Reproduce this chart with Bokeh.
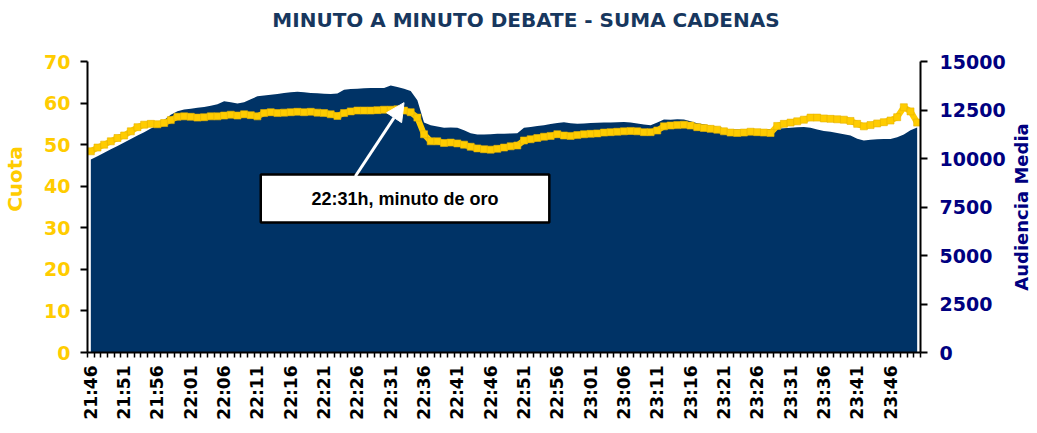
from math import pi
from bokeh.plotting import figure
from bokeh.layouts import row
from bokeh.models import Range1d, LinearAxis, FixedTicker, Arrow, NormalHead, Label
from bokeh.embed import file_html
from bokeh.resources import INLINE

# ---------------- data ----------------
# minute index 0 = 21:46 ... 124 = 23:50
minutes = list(range(125))
tick_positions = [0, 5, 10, 15, 20, 25, 30, 35, 40, 45, 50, 55, 60, 65, 70, 75, 80, 85, 90, 95, 100, 105, 110, 115, 120]
tick_labels = ["21:46", "21:51", "21:56", "22:01", "22:06", "22:11", "22:16", "22:21", "22:26",
               "22:31", "22:36", "22:41", "22:46", "22:51", "22:56", "23:01", "23:06", "23:11",
               "23:16", "23:21", "23:26", "23:31", "23:36", "23:41", "23:46"]

cuota = [48.4, 49.3, 50.0, 50.8, 51.6, 52.2, 53.2, 54.2, 54.8, 55.0,
         54.9, 55.2, 55.9, 56.7, 56.8, 56.7, 56.5, 56.6, 56.8, 56.8,
         57.0, 57.2, 57.0, 57.3, 57.1, 56.8, 57.6, 57.8, 57.6, 57.7,
         57.8, 57.9, 57.8, 57.9, 57.7, 57.6, 57.3, 56.9, 57.6, 58.0,
         58.2, 58.2, 58.2, 58.3, 58.4, 58.4, 58.5, 58.2, 57.8, 56.5,
         52.5, 50.8, 50.8, 50.4, 50.5, 50.3, 50.0, 49.5, 49.1, 48.9,
         48.8, 49.0, 49.3, 49.6, 49.8, 51.0, 51.3, 51.6, 51.9, 52.1,
         52.5, 52.2, 52.1, 52.3, 52.5, 52.6, 52.7, 52.9, 53.0, 53.1,
         53.2, 53.3, 53.2, 53.0, 53.0, 53.4, 54.4, 54.6, 54.7, 54.8,
         54.6, 54.2, 54.0, 53.8, 53.6, 53.2, 52.9, 52.8, 52.9, 53.1,
         53.0, 52.9, 52.8, 54.5, 55.0, 55.3, 55.6, 56.0, 56.5, 56.5,
         56.3, 56.2, 56.1, 56.0, 55.7, 55.0, 54.4, 54.7, 55.1, 55.4,
         55.8, 56.6, 59.0, 58.0, 55.3]

audiencia = [9950, 10120, 10300, 10480, 10650, 10820, 11000, 11180, 11350, 11550,
             11700, 11980, 12250, 12430, 12520, 12570, 12610, 12650, 12720, 12800,
             12950, 12900, 12830, 12900, 13050, 13210, 13250, 13290, 13330, 13380,
             13420, 13440, 13420, 13380, 13360, 13340, 13330, 13350, 13540, 13580,
             13600, 13620, 13630, 13640, 13640, 13760, 13680, 13600, 13480, 13000,
             11850, 11720, 11650, 11580, 11600, 11580, 11450, 11300, 11240, 11240,
             11250, 11270, 11280, 11290, 11300, 11580, 11620, 11670, 11720, 11780,
             11830, 11870, 11820, 11790, 11810, 11830, 11840, 11850, 11860, 11870,
             11880, 11850, 11800, 11750, 11720, 11850, 12010, 12000, 12020, 12010,
             11920, 11820, 11760, 11690, 11620, 11560, 11500, 11490, 11480, 11500,
             11490, 11490, 11510, 11530, 11560, 11580, 11610, 11630, 11580, 11500,
             11420, 11380, 11320, 11250, 11180, 11020, 10930, 10970, 10990, 11000,
             11010, 11100, 11240, 11450, 11600]

cuota_ticks = [0, 10, 20, 30, 40, 50, 60, 70]
aud_ticks = [0, 2500, 5000, 7500, 10000, 12500, 15000]
title_text = "MINUTO A MINUTO DEBATE - SUMA CADENAS"
right_title = "Audiencia Media"

# ---------------- styles ----------------
NAVY = "#003366"
YELLOW = "#FFCC00"
AXIS_BLUE = "#000080"
FONT = "DejaVu Sans"

# axes span 0..70 (0..15000) over 291px; the frame is extended upward to hold the title
FRAME_H = 347
CUOTA_TOP = 70 * FRAME_H / 291
AUD_TOP = 15000 * FRAME_H / 291

p = figure(frame_width=833, frame_height=FRAME_H,
           x_range=Range1d(-0.5, 124.5), y_range=Range1d(0, CUOTA_TOP),
           output_backend="svg", toolbar_location=None,
           min_border_left=77, min_border_right=90,
           min_border_top=5, min_border_bottom=65)
p.outline_line_color = None
p.grid.visible = False
p.background_fill_color = "white"
p.border_fill_color = "white"

p.extra_y_ranges = {"aud": Range1d(0, AUD_TOP)}

# title (as a label in the upper part of the frame)
p.add_layout(Label(x=65.3, y=80.1, text=title_text, text_align="center",
                   text_baseline="middle", text_color="#17375E", text_font=FONT,
                   text_font_style="bold", text_font_size="20px"))

# area (audience)
p.varea(x=minutes, y1=0, y2=audiencia, y_range_name="aud", fill_color=NAVY)

# line (cuota)
p.line(minutes, cuota, line_color=YELLOW, line_width=6)
p.scatter(minutes, cuota, marker="square", size=7, fill_color=YELLOW,
          line_color="#E5B400", line_width=0.6)

# left axis
ya = p.yaxis[0]
ya.bounds = (0, 70)
ya.ticker = FixedTicker(ticks=cuota_ticks)
ya.axis_label = "Cuota"
ya.axis_label_text_color = YELLOW
ya.axis_label_text_font = FONT
ya.axis_label_text_font_style = "bold"
ya.axis_label_text_font_size = "20px"
ya.axis_label_standoff = 14
ya.major_label_text_color = YELLOW
ya.major_label_text_font = FONT
ya.major_label_text_font_style = "bold"
ya.major_label_text_font_size = "19px"
ya.major_label_standoff = 10
ya.major_tick_out = 7
ya.major_tick_in = 0
ya.minor_tick_out = 0
ya.minor_tick_in = 0
ya.axis_line_width = 2
ya.major_tick_line_width = 2

# right axis
ra = LinearAxis(y_range_name="aud", ticker=FixedTicker(ticks=aud_ticks), bounds=(0, 15000))
ra.major_label_text_color = AXIS_BLUE
ra.major_label_text_font = FONT
ra.major_label_text_font_style = "bold"
ra.major_label_text_font_size = "19px"
ra.major_label_standoff = 12
ra.major_tick_out = 7
ra.major_tick_in = 0
ra.minor_tick_out = 0
ra.minor_tick_in = 0
ra.axis_line_width = 2
ra.major_tick_line_width = 2
p.add_layout(ra, "right")

# x axis
xa = p.xaxis[0]
xa.ticker = FixedTicker(ticks=tick_positions, minor_ticks=[m - 0.5 for m in minutes] + [124.5])
xa.major_label_overrides = {t: l for t, l in zip(tick_positions, tick_labels)}
xa.major_label_orientation = pi / 2
xa.major_label_text_font = FONT
xa.major_label_text_font_style = "bold"
xa.major_label_text_font_size = "17px"
xa.major_label_text_color = "black"
xa.major_label_standoff = 8
xa.major_tick_line_color = None
xa.major_tick_out = 0
xa.major_tick_in = 0
xa.minor_tick_out = 5
xa.minor_tick_in = 0
xa.minor_tick_line_width = 1.5
xa.axis_line_width = 2

# annotation
p.quad(left=25.5, right=68.8, bottom=31.3, top=42.8, fill_color="white",
       line_color="black", line_width=2.5)
p.add_layout(Label(x=47.15, y=37.0, text="22:31h, minuto de oro", text_align="center",
                   text_baseline="middle", text_color="black", text_font="Liberation Sans",
                   text_font_style="bold", text_font_size="18px"))
p.add_layout(Arrow(end=NormalHead(size=18, fill_color="white", line_color="white"),
                   x_start=39.7, y_start=42.4, x_end=47.0, y_end=60.1,
                   line_color="white", line_width=3))

# narrow side panel carrying the right axis title (reads bottom to top)
side = figure(frame_width=21, frame_height=FRAME_H,
              x_range=Range1d(0, 1), y_range=Range1d(0, CUOTA_TOP),
              x_axis_type=None, y_axis_type=None,
              output_backend="svg", toolbar_location=None,
              min_border_left=0, min_border_right=0,
              min_border_top=5, min_border_bottom=65)
side.outline_line_color = None
side.grid.visible = False
side.add_layout(Label(x=0.5, y=35, text=right_title, angle=pi / 2, text_align="center",
                      text_baseline="middle", text_color=AXIS_BLUE, text_font=FONT,
                      text_font_style="bold", text_font_size="18px"))

layout = row(p, side)
open("out.html", "w").write(file_html(layout, INLINE))
